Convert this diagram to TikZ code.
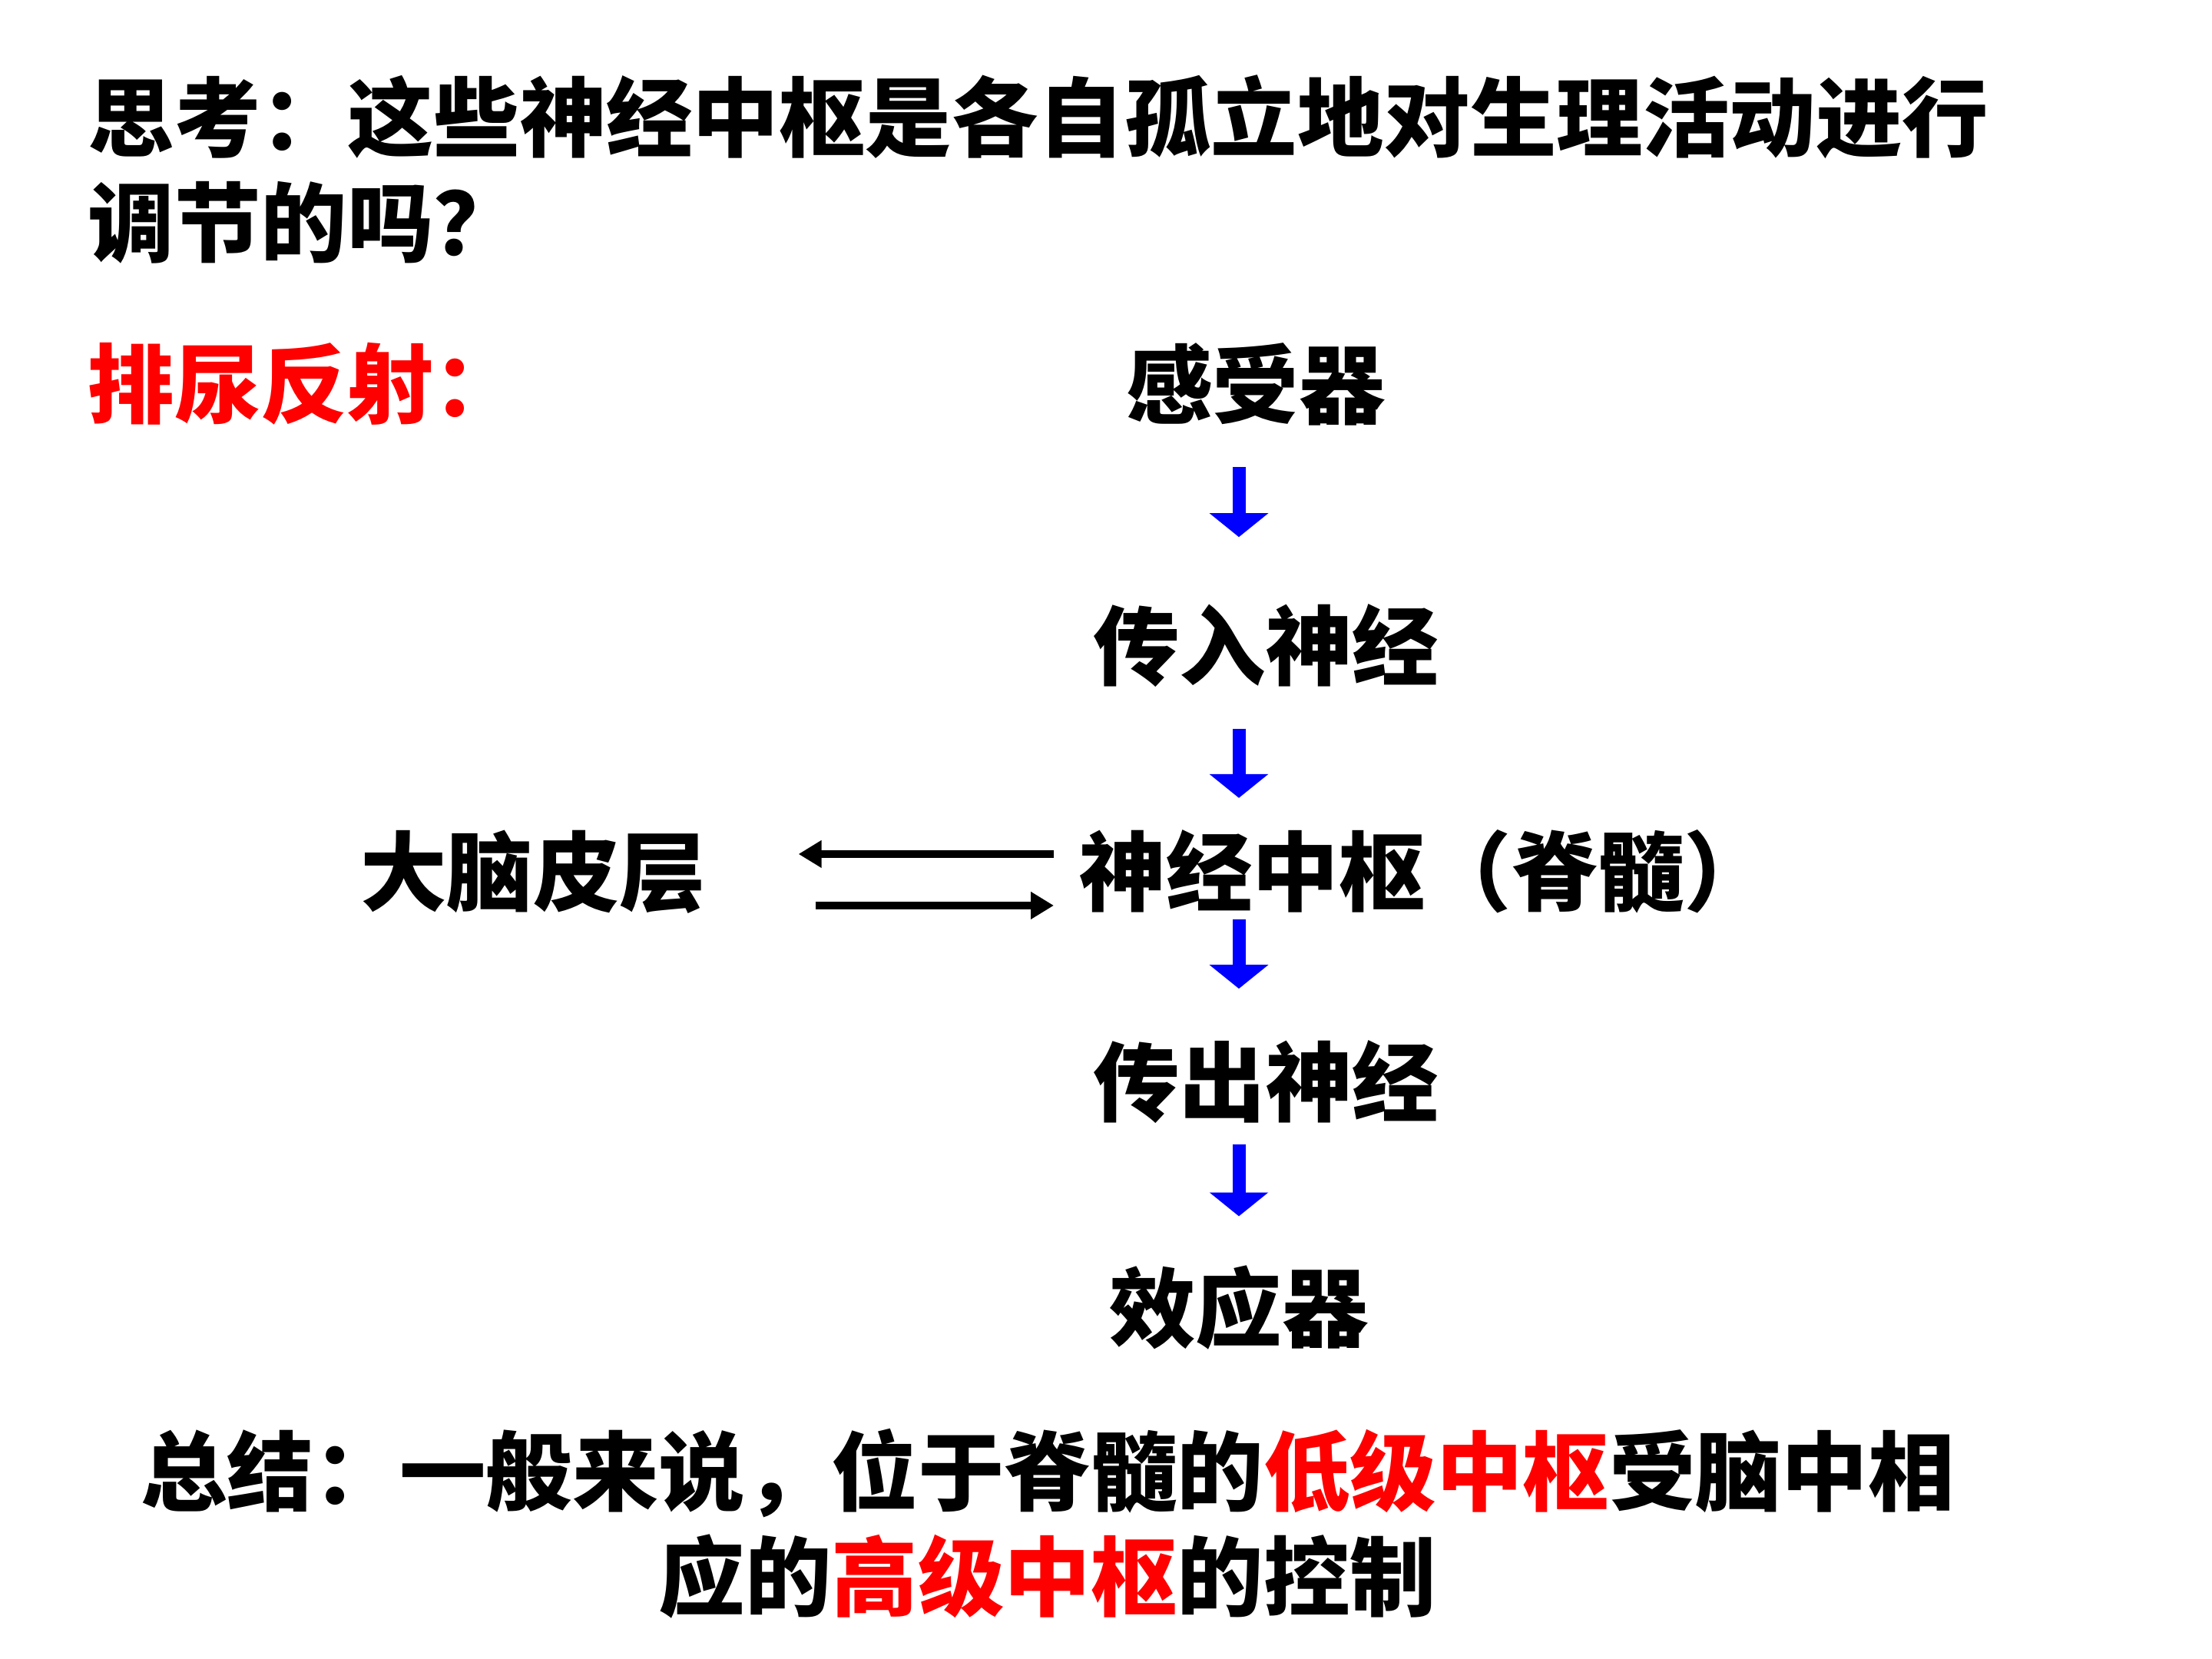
\documentclass[tikz,border=0pt]{standalone}
\usepackage{fontspec}
\newfontfamily\cjk{Noto Sans CJK SC}
\usepackage{tikz}
\usetikzlibrary{arrows.meta, positioning, calc}

\begin{document}
\begin{tikzpicture}[
  lbl/.style={inner sep=0pt, font=\cjk\bfseries\fontsize{32}{39}\selectfont},
  flow/.style={blue, line width=0.17cm, -{Triangle[length=0.31cm, width=0.75cm]}},
  link/.style={black, line width=0.1cm, -{Triangle[length=0.3cm, width=0.34cm]}}
]
% Canvas (slide proportions)
\fill[white] (0,0) rectangle (28.8,21.6);
\useasboundingbox (0,0) rectangle (28.8,21.6);
% Question
\node[lbl, anchor=west, align=left] (title) at (1.14,19.4)
  {思考：这些神经中枢是各自孤立地对生理活动进行\\调节的吗？};
\node[lbl, anchor=west, red] (reflex) at (1.14,16.6) {排尿反射：};
% Reflex arc
\node[lbl] (receptor) at (16.35,16.6) {感受器};
\node[lbl] (afferent) at (16.48,13.19) {传入神经};
\node[lbl, anchor=west] (spinal) at (14.05,10.25) {神经中枢（脊髓）};
\node[lbl] (cortex) at (6.94,10.25) {大脑皮层};
\node[lbl] (efferent) at (16.48,7.51) {传出神经};
\node[lbl] (effector) at (16.13,4.57) {效应器};
\coordinate (axis) at (16.13,0);
% Blue arrows along the arc
\draw[flow, shorten <=5.4mm, shorten >=8.7mm] (receptor.south -| axis) -- (afferent.north -| axis);
\draw[flow, shorten <=5.3mm, shorten >=4.1mm] (afferent.south -| axis) -- (spinal.north -| axis);
\draw[flow, shorten <=0.7mm, shorten >=6.7mm] (spinal.south -| axis) -- (efferent.north -| axis);
\draw[flow, shorten <=2.6mm, shorten >=6.4mm] (efferent.south -| axis) -- (effector.north -| axis);
% Two-way link with the cortex
\draw[link, shorten <=3.3mm, shorten >=12mm] ([yshift=0.23cm]spinal.west) -- ([yshift=0.23cm]cortex.east);
\draw[link, shorten <=14.2mm, shorten >=3.3mm] ([yshift=-0.44cm]cortex.east) -- ([yshift=-0.44cm]spinal.west);
% Conclusion
\node[lbl, align=center] (summary) at (13.64,1.76)
  {总结：一般来说，位于脊髓的{\color{red}低级中枢}受脑中相\\应的{\color{red}高级中枢}的控制};
\end{tikzpicture}
\end{document}
